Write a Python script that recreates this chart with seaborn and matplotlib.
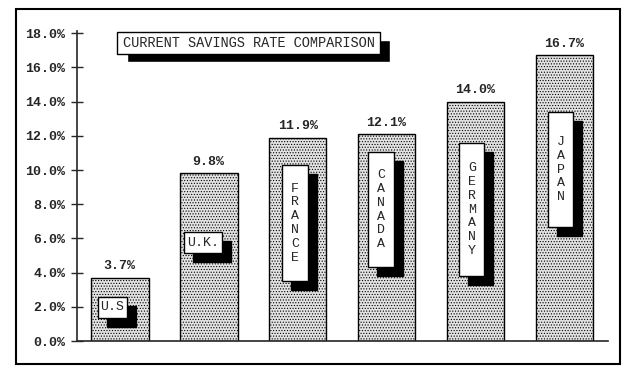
import matplotlib
matplotlib.use("Agg")
import matplotlib.pyplot as plt
from matplotlib.patches import Rectangle
import seaborn as sns
import pandas as pd

# chart data
countries = ["U.S", "U.K.", "FRANCE", "CANADA", "GERMANY", "JAPAN"]
savings_rate = [3.7, 9.8, 11.9, 12.1, 14.0, 16.7]
y_ticks = [0, 2, 4, 6, 8, 10, 12, 14, 16, 18]
title_text = "CURRENT SAVINGS RATE COMPARISON"

# label boxes inside bars: x offset from bar centre, width, y centre, height (data units)
box_dx = [-0.08, -0.06, -0.03, -0.06, -0.04, -0.04]
box_w = [0.33, 0.43, 0.29, 0.29, 0.28, 0.28]
box_yc = [1.96, 5.76, 6.90, 7.68, 7.69, 10.02]
box_h = [1.23, 1.23, 6.78, 6.72, 7.77, 6.72]
vertical = [False, False, True, True, True, True]

df = pd.DataFrame({"country": countries, "rate": savings_rate})

sns.set_style("white")
plt.rcParams["font.family"] = ["Liberation Mono", "DejaVu Sans"]
plt.rcParams["hatch.color"] = "#a2a2a2"
plt.rcParams["hatch.linewidth"] = 0.5

fig = plt.figure(figsize=(6.33, 3.74), dpi=100)
ax = fig.add_axes([77 / 633, 33 / 374, 531 / 633, 309.5 / 374])

sns.barplot(data=df, x="country", y="rate", color="#e2e2e2", edgecolor="black",
            linewidth=1.0, width=0.65, saturation=1, ax=ax)
for p in ax.patches:
    p.set_hatch("......")

ax.set_xlim(-0.48, 5.49)
ax.set_ylim(0, 18.1)
ax.set_yticks(y_ticks)
ax.set_yticklabels([f"{v:.1f}%" for v in y_ticks], fontsize=9.5, fontweight="bold")
ax.set_xticks([])
ax.set_xlabel("")
ax.set_ylabel("")
ax.tick_params(axis="y", direction="inout", length=9, width=1, pad=4, left=True)
sns.despine(ax=ax, top=True, right=True)
ax.spines["left"].set_linewidth(1.2)
ax.spines["bottom"].set_linewidth(1.2)

# value labels above bars
for i, v in enumerate(savings_rate):
    ax.annotate(f"{v:.1f}%", (i, v), xytext=(0, 4), textcoords="offset points",
                ha="center", va="bottom", fontsize=9.5, fontweight="bold")

# country label boxes with drop shadow
sdx, sdy = 0.1, -0.52
for i, name in enumerate(countries):
    cx = i + box_dx[i]
    x0 = cx - box_w[i] / 2
    y0 = box_yc[i] - box_h[i] / 2
    ax.add_patch(Rectangle((x0 + sdx, y0 + sdy), box_w[i], box_h[i],
                           facecolor="black", edgecolor="black", zorder=4))
    ax.add_patch(Rectangle((x0, y0), box_w[i], box_h[i], facecolor="white",
                           edgecolor="black", linewidth=1, zorder=5))
    label = "\n".join(name) if vertical[i] else name
    ax.text(cx, box_yc[i], label, ha="center", va="center", fontsize=9.5,
            linespacing=1.2 if vertical[i] else 1.0, zorder=6)

# title box with drop shadow (axes fraction)
tx0, tx1 = 40 / 531, 303 / 531
ty0, ty1 = 16.77 / 18.1, 18.06 / 18.1
ax.add_patch(Rectangle((tx0 + 10 / 531, ty0 - 8 / 309.5), tx1 - tx0, ty1 - ty0,
                       transform=ax.transAxes, facecolor="black", zorder=4, clip_on=False))
ax.add_patch(Rectangle((tx0, ty0), tx1 - tx0, ty1 - ty0, transform=ax.transAxes,
                       facecolor="white", edgecolor="black", linewidth=1, zorder=5, clip_on=False))
ax.text((tx0 + tx1) / 2, (ty0 + ty1) / 2, title_text, transform=ax.transAxes,
        ha="center", va="center", fontsize=9.8, zorder=6)

# outer frame
fig.patches.append(Rectangle((16 / 633, 10 / 374), 604 / 633, 355 / 374,
                             transform=fig.transFigure, fill=False,
                             edgecolor="black", linewidth=1.5))

fig.savefig("out.png", dpi=100)
